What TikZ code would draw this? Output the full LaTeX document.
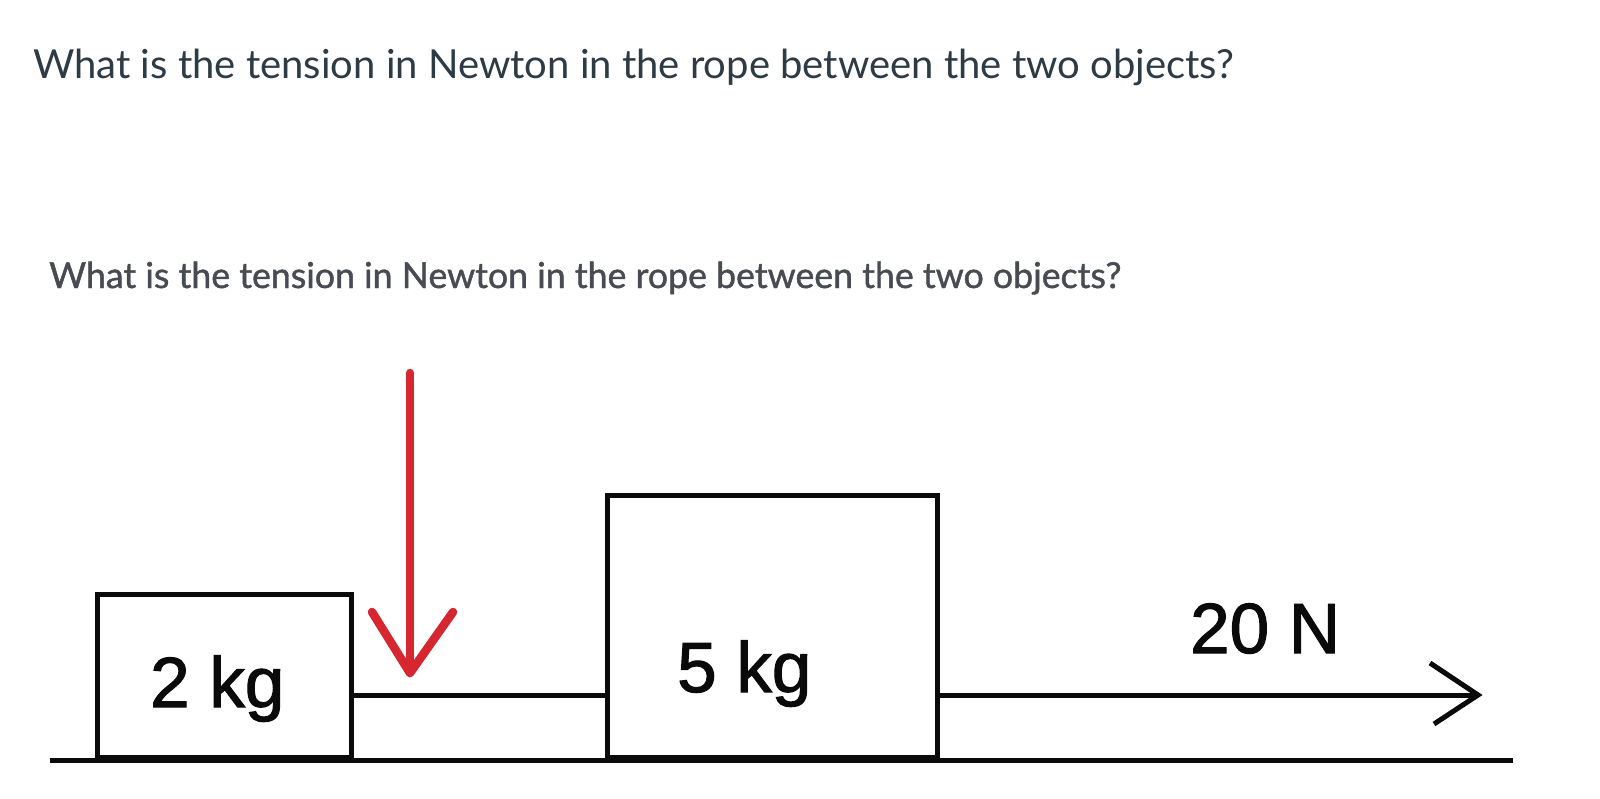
\documentclass[tikz,border=0pt]{standalone}
\usepackage{fontspec}
\setmainfont{Lato}
\newfontfamily\arialf[FakeBold=1.6]{Liberation Sans}
\newfontfamily\latob[FakeBold=1.2]{Lato}
\definecolor{qtext}{RGB}{45,59,69}
\definecolor{qtexttwo}{RGB}{72,76,82}
\definecolor{arrred}{RGB}{214,38,48}
\definecolor{ink}{RGB}{10,10,10}
\tikzset{
  blockbox/.style={draw=ink, line width=5pt, fill=white, inner sep=0pt, anchor=south west},
  ropeline/.style={draw=ink, line width=5pt},
  groundline/.style={draw=ink, line width=5pt},
  redarrow/.style={draw=arrred, line width=8.5pt, line cap=round, line join=round},
  forcetip/.style={draw=ink, line width=5pt, line join=miter},
  masslabel/.style={font=\arialf\fontsize{71}{80}\selectfont, text=ink, anchor=base west, inner sep=0pt},
}
\begin{document}
\begin{tikzpicture}[x=1pt,y=-1pt]
\useasboundingbox[fill=white] (0,0) rectangle (1600,798);
% titles
\node[anchor=base west, inner sep=0pt, text=qtext, font=\fontsize{40}{48}\selectfont] (title) at (33,78) {What is the tension in Newton in the rope between the two objects?};
\node[anchor=base west, inner sep=0pt, text=qtexttwo, font=\latob\fontsize{35.7}{42}\selectfont] (title2) at (49,288) {What is the tension in Newton in the rope between the two objects?};
% ground
\coordinate (gl) at (50,760);
\coordinate (gr) at (1513,760);
\draw[groundline] (gl) -- (gr);
% blocks
\node[blockbox, minimum width=254pt, minimum height=163pt] (m2) at (95,760) {};
\node[blockbox, minimum width=330pt, minimum height=262pt] (m5) at (605,760) {};
\node[masslabel] (l2) at (150,707) {2 kg};
\node[masslabel] (l5) at (677,692) {5 kg};
% ropes
\coordinate (ropey) at (0,695);
\coordinate (ftip) at (1478,695);
\draw[ropeline] (m2.east |- ropey) -- (m5.west |- ropey);
\draw[ropeline] (m5.east |- ropey) -- (ftip);
\draw[forcetip] (ftip) ++(-48,-32) -- (ftip) -- ++(-44,29);
\node[masslabel] (lf) at (1190,653) {20 N};
% red arrow
\coordinate (rtop) at (410,373);
\coordinate (rtip) at (410,673);
\draw[redarrow] (rtop) -- (rtip);
\draw[redarrow] (rtip) ++(-38,-61) -- (rtip) -- ++(43,-61);
\end{tikzpicture}
\end{document}
